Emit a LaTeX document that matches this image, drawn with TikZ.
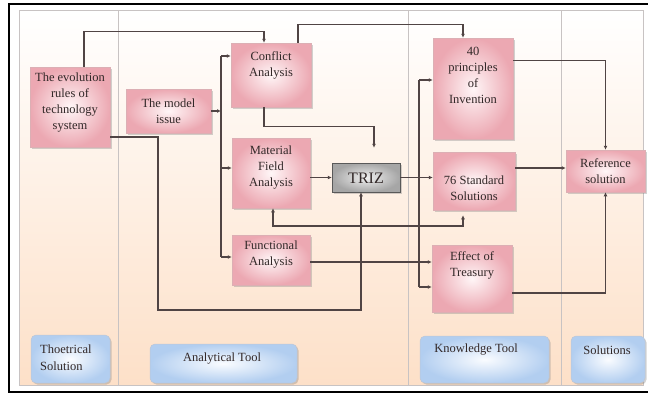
\documentclass[tikz,border=0pt]{standalone}
\usepackage{fontspec}
\setmainfont{Liberation Serif}
\usetikzlibrary{arrows.meta,shadows,calc}
\definecolor{pinkd}{RGB}{236,168,178}
\definecolor{pinkl}{RGB}{255,246,247}
\definecolor{pinkb}{RGB}{220,175,180}
\definecolor{blued}{RGB}{178,206,240}
\definecolor{bluel}{RGB}{250,252,255}
\definecolor{blueb}{RGB}{190,198,212}
\definecolor{peach}{RGB}{253,224,200}
\definecolor{linec}{RGB}{80,68,68}
\definecolor{txtc}{RGB}{50,40,40}
\definecolor{sepc}{RGB}{200,195,195}
\begin{document}
\begin{tikzpicture}[x=1pt,y=-1pt,
  shadowed/.style={drop shadow={shadow xshift=1.5pt,shadow yshift=-1.5pt,opacity=0.35,fill=gray}},
  pbox/.style={shadowed,draw=pinkb,line width=0.5pt,inner color=pinkl,outer color=pinkd,inner sep=0pt},
  gbox/.style={shadowed,draw=gray!70!black,line width=0.5pt,inner color=gray!12,outer color=gray!70,inner sep=0pt},
  bbox/.style={shadowed,draw=blueb,line width=0.5pt,rounded corners=5pt,inner color=bluel,outer color=blued,inner sep=0pt},
  txt/.style={align=center,text=txtc,font=\fontsize{12.5}{16}\selectfont,inner sep=0pt},
  ltxt/.style={align=left,text=txtc,font=\fontsize{12.5}{17}\selectfont,inner sep=0pt},
  conn/.style={draw=linec,line width=1.2pt,-{Latex[length=4pt,width=4pt]}},
  conn2/.style={draw=linec,line width=1.2pt,{Latex[length=4pt,width=4pt]}-{Latex[length=4pt,width=4pt]}},
  plain/.style={draw=linec,line width=1.2pt}]
\useasboundingbox (0,0) rectangle (648,397);
% background panel
\fill[white] (0,0) rectangle (648,397);
\shade[top color=white,middle color={peach!40},bottom color=peach] (19,10) rectangle (643,385);
\draw[sepc,line width=0.5pt] (19,10) rectangle (643,385);
\draw[sepc,line width=0.6pt] (118,10) -- (118,385);
\draw[sepc,line width=0.6pt] (408,10) -- (408,385);
\draw[sepc,line width=0.6pt] (561,10) -- (561,385);
% outer black frame
\draw[black,line width=2.2pt] (648,4) -- (9,4) -- (9,392) -- (648,392);

% pink boxes
\node[pbox,minimum width=80pt,minimum height=80pt] (evo) at (70,107) {};
\node[pbox,minimum width=85pt,minimum height=44pt] (model) at (168.5,111) {};
\node[pbox,minimum width=80pt,minimum height=64pt] (conf) at (271,75) {};
\node[pbox,minimum width=78pt,minimum height=70pt] (mat) at (271,173) {};
\node[pbox,minimum width=78pt,minimum height=50pt] (func) at (271,260) {};
\node[gbox,minimum width=68pt,minimum height=29pt] (triz) at (366,177.5) {};
\node[pbox,minimum width=80pt,minimum height=101pt] (p40) at (473,88.5) {};
\node[pbox,minimum width=82pt,minimum height=58pt] (s76) at (474,181) {};
\node[pbox,minimum width=80pt,minimum height=67pt] (eff) at (472,278.5) {};
\node[pbox,minimum width=79pt,minimum height=42pt] (ref) at (605.5,171) {};

% texts
\node[txt] (evoT) at (70,103) {The evolution\\rules of\\technology\\system};
\node[txt] (modelT) at (168.5,111) {The model\\issue};
\node[txt] (confT) at (271,65) {Conflict\\Analysis};
\node[txt] (matT) at (271,168) {Material\\Field\\Analysis};
\node[txt] (funcT) at (271,255) {Functional\\Analysis};
\node[txt,font=\fontsize{16}{18}\selectfont] (trizT) at (366,178) {TRIZ};
\node[txt] (p40T) at (473,75) {40\\principles\\of\\Invention};
\node[txt] (s76T) at (474,188) {76 Standard\\Solutions};
\node[txt] (effT) at (472,265) {Effect of\\Treasury};
\node[txt] (refT) at (605.5,171) {Reference\\solution};

% bottom labels
\node[bbox,minimum width=79pt,minimum height=48pt] (lab1) at (70.5,359) {};
\node[ltxt,anchor=west] (lab1T) at (40,358) {Thoetrical\\Solution};
\node[bbox,minimum width=147pt,minimum height=39pt] (lab2) at (223.5,363.5) {};
\node[ltxt] (lab2T) at (222,359) {Analytical Tool};
\node[bbox,minimum width=129pt,minimum height=47pt] (lab3) at (484.5,359.5) {};
\node[ltxt] (lab3T) at (476,350) {Knowledge Tool};
\node[bbox,minimum width=74pt,minimum height=47pt] (lab4) at (608,359.5) {};
\node[ltxt] (lab4T) at (607,350) {Solutions};

% coordinates
\coordinate (tA1) at (221,56);
\coordinate (tA2) at (221,257);
\coordinate (tAm) at (221,111);
\coordinate (tAmat) at (221,168);
\coordinate (tB1) at (419,80);
\coordinate (tB2) at (419,287);
\coordinate (c7) at (158,310);
\coordinate (c8) at (463,226);

% connectors
\draw[conn] ([xshift=14pt]evo.north) -- ++(0,-35) -| ([xshift=-7pt]conf.north);
\draw[conn] ([xshift=27pt]conf.north) -- ++(0,-18) -| ([xshift=-10pt]p40.north);
\draw[conn] (model.east) -- (tAm);
\draw[plain] (tA1) -- (tA2);
\draw[conn] (tA1) -- (tA1 -| conf.west);
\draw[conn] (tAmat) -- (tAmat -| mat.west);
\draw[conn] (tA2) -- (tA2 -| func.west);
\draw[conn,shorten >=15pt] ([xshift=-7pt]conf.south) -- ++(0,19) -| ([xshift=8pt]triz.north);
\draw[conn] (triz.west -| mat.east) -- (triz.west);
\draw[conn] (triz.east) -- (triz.east -| s76.west);
\draw[conn] ([yshift=-30pt]evo.east) -| (c7) -| ([xshift=-5pt]triz.south);
\draw[conn2,shorten >=5pt] ([xshift=2pt]mat.south) |- (c8) -- ([xshift=-11pt]s76.south);
\draw[conn] ([yshift=-2pt]func.east) -- ([yshift=-2pt]func.east -| eff.west);
\draw[plain] (tB1) -- (tB2);
\draw[conn] (tB1) -- (tB1 -| p40.west);
\draw[conn] (tB2) -- (tB2 -| eff.west);
\draw[conn] ([yshift=28pt]p40.east) -| (ref.north);
\draw[conn] ([yshift=13pt]s76.east) -- ([yshift=3pt]ref.west);
\draw[conn] ([yshift=-14.5pt]eff.east) -| (ref.south);
\end{tikzpicture}
\end{document}
